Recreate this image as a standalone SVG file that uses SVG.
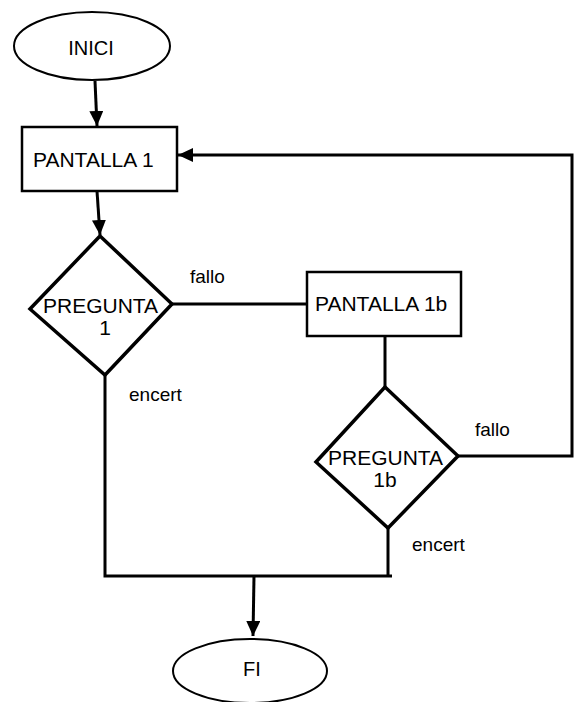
<svg xmlns="http://www.w3.org/2000/svg" width="577" height="702" viewBox="0 0 577 702">
<style>
.n{fill:#fff;stroke:#000}
.t{font-family:"Liberation Sans",Arial,sans-serif;fill:#000}
.c{fill:none;stroke:#000;stroke-width:3}
</style>
<defs>
<marker id="ah" markerUnits="userSpaceOnUse" markerWidth="16" markerHeight="14" refX="15" refY="7" orient="auto">
<path d="M0,0 L15,7 L0,14 z" fill="#000"/>
</marker>
</defs>
<rect width="577" height="702" fill="#fff"/>
<g id="connectors">
<line class="c" x1="95" y1="81" x2="97" y2="126" marker-end="url(#ah)"/>
<line class="c" x1="97" y1="191" x2="100" y2="235" marker-end="url(#ah)"/>
<line class="c" x1="172" y1="304" x2="307" y2="304"/>
<line class="c" x1="385" y1="336" x2="385" y2="387"/>
<polyline class="c" points="458,456 572,456 572,155 178,155" marker-end="url(#ah)"/>
<polyline class="c" points="105,375 105,576 392,576"/>
<line class="c" x1="388" y1="528" x2="388" y2="576"/>
<line class="c" x1="254" y1="576" x2="253" y2="636" marker-end="url(#ah)"/>
</g>
<g id="inici">
<ellipse class="n" cx="92" cy="46" rx="78" ry="34" stroke-width="2"/>
<text class="t" x="91" y="55" font-size="20" text-anchor="middle">INICI</text>
</g>
<g id="pantalla1">
<rect class="n" x="22" y="127" width="155" height="64" stroke-width="2.5"/>
<text class="t" x="33" y="167" font-size="21">PANTALLA 1</text>
</g>
<g id="pregunta1">
<polygon class="n" points="100,236 172,304 105,375 30,309" stroke-width="3.5"/>
<text class="t" x="43" y="313" font-size="21">PREGUNTA</text>
<text class="t" x="105" y="335" font-size="21" text-anchor="middle">1</text>
</g>
<g id="pantalla1b">
<rect class="n" x="307" y="272" width="154" height="64" stroke-width="2.5"/>
<text class="t" x="315" y="311" font-size="21">PANTALLA 1b</text>
</g>
<g id="pregunta1b">
<polygon class="n" points="385,387 458,456 388,528 316,462" stroke-width="3.5"/>
<text class="t" x="328" y="465" font-size="21">PREGUNTA</text>
<text class="t" x="385" y="487" font-size="21" text-anchor="middle">1b</text>
</g>
<g id="fi">
<ellipse class="n" cx="250" cy="671" rx="77" ry="32" stroke-width="2"/>
<text class="t" x="252" y="676" font-size="20" text-anchor="middle">FI</text>
</g>
<g id="labels">
<text class="t" x="190" y="283" font-size="19">fallo</text>
<text class="t" x="129" y="401" font-size="19">encert</text>
<text class="t" x="475" y="436" font-size="19">fallo</text>
<text class="t" x="412" y="551" font-size="19">encert</text>
</g>
</svg>
